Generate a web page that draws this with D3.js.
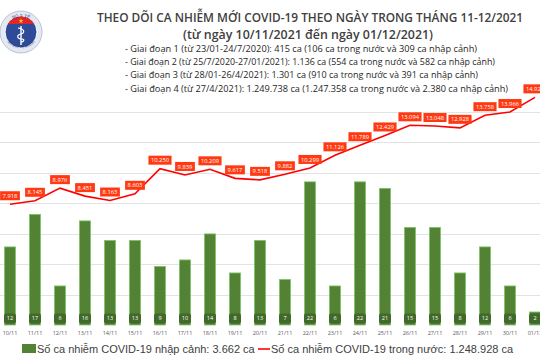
<!DOCTYPE html>
<html><head><meta charset="utf-8">
<script src="https://cdn.jsdelivr.net/npm/d3@7"></script>
<style>html,body{margin:0;padding:0;background:#fff;}svg{display:block;}</style>
</head><body>
<script>
const days = ["10/11","11/11","12/11","13/11","14/11","15/11","16/11","17/11","18/11","19/11","20/11","21/11","22/11","23/11","24/11","25/11","26/11","27/11","28/11","29/11","30/11","01/12"];
const imported = [12,17,6,16,13,13,9,10,14,8,13,7,22,6,22,21,15,15,8,12,6,2];
const domestic = [7918,8145,8976,8451,8163,8603,10250,9839,10209,9617,9518,9882,10299,11126,11789,12429,13094,13048,12928,13758,13966,14928];
const lineTicks = [0,2000,4000,6000,8000,10000,12000,14000];
const title = "THEO DÕI CA NHIỄM MỚI COVID-19 THEO NGÀY TRONG THÁNG 11-12/2021";
const subtitle = "(từ ngày 10/11/2021 đến ngày 01/12/2021)";
const phases = [
  "- Giai đoạn 1 (từ 23/01-24/7/2020): 415 ca (106 ca trong nước và 309 ca nhập cảnh)",
  "- Giai đoạn 2 (từ 25/7/2020-27/01/2021): 1.136 ca (554 ca trong nước và 582 ca nhập cảnh)",
  "- Giai đoạn 3 (từ 28/01-26/4/2021): 1.301 ca (910 ca trong nước và 391 ca nhập cảnh)",
  "- Giai đoạn 4 (từ 27/4/2021): 1.249.738 ca (1.247.358 ca trong nước và 2.380 ca nhập cảnh)"
];
const legendLabels = ["Số ca nhiễm COVID-19 nhập cảnh: 3.662 ca", "Số ca nhiễm COVID-19 trong nước: 1.248.928 ca"];

const W = 540, H = 360;
const vn = d3.formatLocale({decimal: ",", thousands: ".", grouping: [3], currency: ["", "đ"]});
const fmt = vn.format(",d");

const svg = d3.select("body").append("svg").attr("width", W).attr("height", H);
svg.append("rect").attr("width", W).attr("height", H).attr("fill", "#fff");

const x = d3.scaleBand().domain(days).range([-2.5, 547.5]).paddingInner(0.56).paddingOuter(0.28);
const cx = d => x(d) + x.bandwidth() / 2;
const yL = d3.scaleLinear().domain([0, 16000]).range([325, 81]);
const yB = d3.scaleLinear().domain([0, 37.5]).range([325, 81]);

// gridlines
svg.append("g").selectAll("line").data(lineTicks.slice(1)).join("line")
  .attr("x1", 0).attr("x2", W).attr("y1", d => Math.round(yL(d)) + 0.5).attr("y2", d => Math.round(yL(d)) + 0.5)
  .attr("stroke", "#e3e3e3").attr("stroke-width", 1);

// bars
svg.append("g").selectAll("rect").data(imported).join("rect")
  .attr("x", (d, i) => x(days[i])).attr("width", x.bandwidth())
  .attr("y", d => yB(d)).attr("height", d => yB(0) - yB(d))
  .attr("fill", "#548235").attr("stroke", "#7cc466").attr("stroke-width", 0.8);

// bar labels
const bl = svg.append("g").selectAll("g").data(imported).join("g")
  .attr("transform", (d, i) => `translate(${cx(days[i])},318.5)`);
bl.append("rect").attr("x", -6).attr("y", -5).attr("width", 12).attr("height", 10).attr("rx", 2)
  .attr("fill", "#41692a");
bl.append("text").attr("text-anchor", "middle").attr("dy", "0.35em")
  .attr("font-family", "Open Sans, sans-serif").attr("font-size", 5.5).attr("fill", "#fff")
  .text(d => d);

// x labels
svg.append("g").selectAll("text").data(days).join("text")
  .attr("x", d => cx(d)).attr("y", 335).attr("text-anchor", "middle")
  .attr("font-family", "Open Sans, sans-serif").attr("font-size", 5.5).attr("fill", "#595959")
  .text(d => d);

// line
const line = d3.line().x((d, i) => cx(days[i])).y(d => yL(d));
svg.append("path").datum(domestic).attr("d", line).attr("fill", "none")
  .attr("stroke", "#ff0000").attr("stroke-width", 1.6);

// line labels
const ll = svg.append("g").selectAll("g").data(domestic).join("g");
ll.each(function(d, i) {
  const g = d3.select(this);
  const t = g.append("text").attr("text-anchor", "middle").attr("dy", "0.36em")
    .attr("font-family", "Open Sans, sans-serif").attr("font-size", 5.8).attr("fill", "#fff")
    .text(fmt(d));
  const w = t.node().getComputedTextLength() + 5;
  g.insert("rect", "text").attr("x", -w / 2).attr("y", -4.5).attr("width", w).attr("height", 9)
    .attr("fill", "#ff3a12");
  const px = Math.min(cx(days[i]), W - w / 2 + 11);
  const dy = px < cx(days[i]) ? 4 : 8.5;
  g.attr("transform", `translate(${px},${yL(d) - dy})`);
});

// header
svg.append("text").attr("x", 97).attr("y", 21.5).attr("font-family", "Open Sans, sans-serif")
  .attr("font-weight", 600).attr("font-size", 12.5).attr("fill", "#404040")
  .attr("textLength", 426).attr("lengthAdjust", "spacingAndGlyphs").text(title);
svg.append("text").attr("x", 183).attr("y", 38.5).attr("font-family", "Open Sans, sans-serif")
  .attr("font-weight", 600).attr("font-size", 12.5).attr("fill", "#404040")
  .attr("textLength", 250).attr("lengthAdjust", "spacingAndGlyphs").text(subtitle);
const phaseW = [352, 370, 353, 383];
svg.append("g").selectAll("text").data(phases).join("text")
  .attr("x", 125).attr("y", (d, i) => 51.5 + i * 13.4)
  .attr("font-family", "Open Sans, sans-serif").attr("font-size", 9.2).attr("fill", "#262626")
  .attr("textLength", (d, i) => phaseW[i]).attr("lengthAdjust", "spacingAndGlyphs")
  .text(d => d);

// legend
svg.append("rect").attr("x", 22).attr("y", 344).attr("width", 14).attr("height", 9).attr("fill", "#548235");
svg.append("text").attr("x", 37).attr("y", 353).attr("font-family", "Liberation Sans, Arial, sans-serif")
  .attr("font-size", 11).attr("fill", "#404040").text(legendLabels[0]);
svg.append("line").attr("x1", 258).attr("x2", 270).attr("y1", 349).attr("y2", 349)
  .attr("stroke", "#ff0000").attr("stroke-width", 1.6);
svg.append("text").attr("x", 271).attr("y", 353).attr("font-family", "Liberation Sans, Arial, sans-serif")
  .attr("font-size", 11).attr("fill", "#404040").text(legendLabels[1]);

// logo
const logo = svg.append("g").attr("transform", "translate(21,32)");
logo.append("circle").attr("r", 21).attr("fill", "#e4e8f1").attr("stroke", "#aab6cf").attr("stroke-width", 0.8);
logo.append("circle").attr("r", 16).attr("fill", "#2d4b98").attr("stroke", "#fff").attr("stroke-width", 1);
svg.append("clipPath").attr("id", "lc").append("circle").attr("cx", 0).attr("cy", 0).attr("r", 15.5);
logo.append("rect").attr("x", -16).attr("y", -16).attr("width", 32).attr("height", 8)
  .attr("fill", "#e0262b").attr("clip-path", "url(#lc)");
logo.append("path").attr("d", d3.symbol(d3.symbolStar, 8)()).attr("transform", "translate(0,-11)").attr("fill", "#ffd200");
logo.append("line").attr("x1", 0).attr("x2", 0).attr("y1", -6).attr("y2", 13).attr("stroke", "#fff").attr("stroke-width", 1.4);
logo.append("path").attr("d", "M-3,-4 C4,-3 4,1 0,2 C-5,3 -4,7 1,7 C4,7 3,10 0,10")
  .attr("fill", "none").attr("stroke", "#fff").attr("stroke-width", 1.2);
logo.append("path").attr("id", "arcTop").attr("d", "M-14,-8.5 A18.3,18.3 0 0,1 14,-8.5").attr("fill", "none");
logo.append("text").attr("font-family", "DejaVu Serif, serif").attr("font-size", 4).attr("fill", "#1f3576")
  .append("textPath").attr("href", "#arcTop").attr("startOffset", "50%").attr("text-anchor", "middle").text("BỘ Y TẾ");
logo.append("path").attr("id", "arcBot").attr("d", "M-16,7 A18.5,18.5 0 0,0 16,7").attr("fill", "none");
logo.append("text").attr("font-family", "DejaVu Serif, serif").attr("font-size", 2.6).attr("fill", "#1f3576")
  .append("textPath").attr("href", "#arcBot").attr("startOffset", "50%").attr("text-anchor", "middle").text("MINISTRY OF HEALTH");
</script>
</body></html>
